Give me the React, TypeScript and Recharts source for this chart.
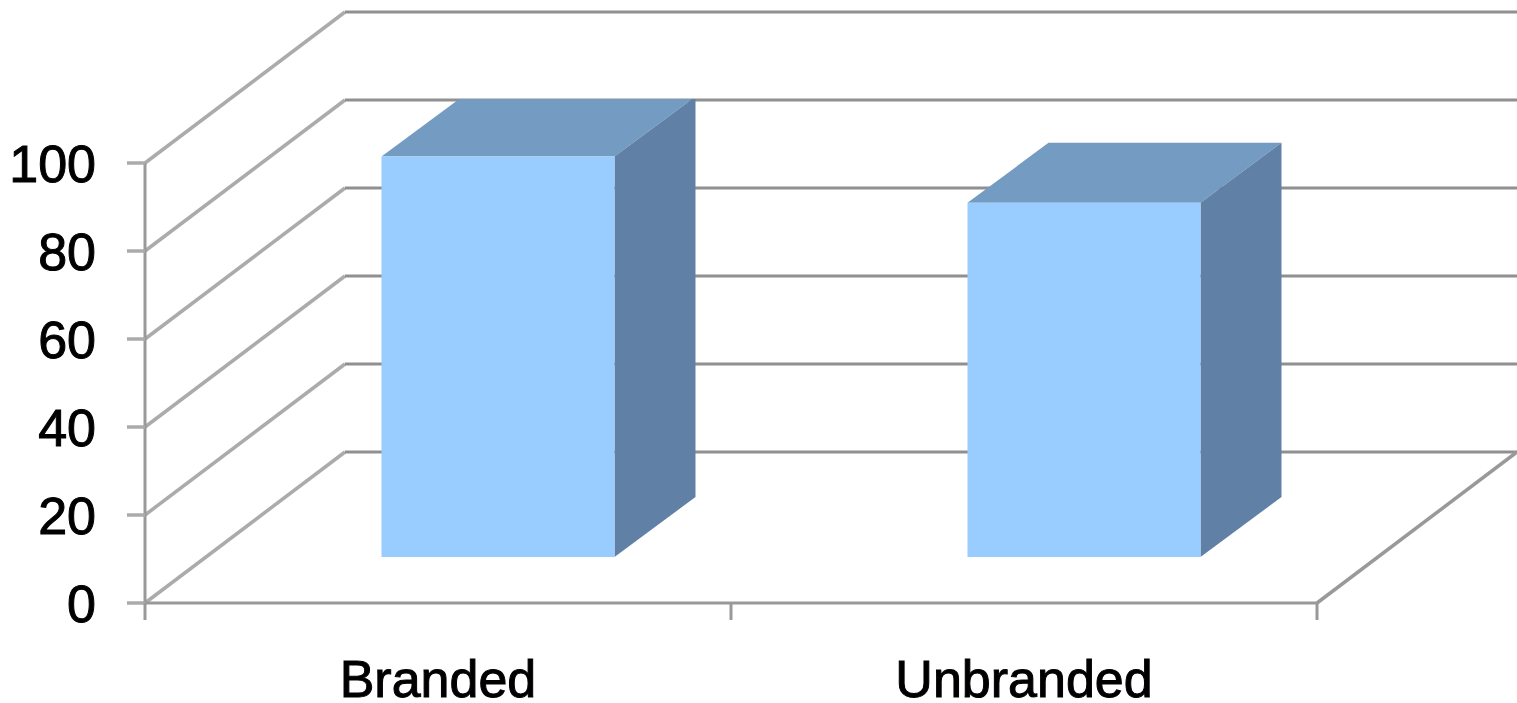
import { Bar, BarChart, CartesianGrid, XAxis, YAxis } from 'recharts';

const categories = ['Branded', 'Unbranded'];
const values = [91, 80.5];
const yTicks = [0, 20, 40, 60, 80, 100];

const data = categories.map((name, i) => ({ name, value: values[i] }));

// plot box of the front plane
const LEFT = 145;
const RIGHT = 1317;
const TOP = 163;
const FLOOR = 603;
const BAND = (RIGHT - LEFT) / categories.length;

// how far the walls and the bars recede into the page
const WALL_DX = 200;
const WALL_DY = 151;
const BAR_SHIFT_X = 59.5;
const BAR_SHIFT_Y = 46;
const BAR_DX = 81;
const BAR_DY = 60;
const BAR_CEILING = 99;

const AXIS = '#999999';
const WALL = '#ababab';
const BACK = '#909090';
const FONT = '"Liberation Sans", Arial, sans-serif';

// one grid level: the diagonal up the side wall, then the line along the back wall
function WallLine({ y1 }: any) {
  return (
    <g>
      <line x1={LEFT} y1={y1} x2={LEFT + WALL_DX} y2={y1 - WALL_DY} stroke={WALL} strokeWidth={3.5} />
      <line x1={LEFT + WALL_DX} y1={y1 - WALL_DY} x2={1517} y2={y1 - WALL_DY} stroke={BACK} strokeWidth={3} />
    </g>
  );
}

function ValueTick({ y, payload }: any) {
  return (
    <g>
      <line x1={127} y1={y} x2={LEFT} y2={y} stroke={WALL} strokeWidth={3.5} />
      <text
        x={96}
        y={y + 19}
        textAnchor="end"
        fontFamily={FONT}
        fontSize={52}
        fill="#000"
        stroke="#000"
        strokeWidth={1}
      >
        {payload.value}
      </text>
    </g>
  );
}

function CategoryTick({ x, payload, index }: any) {
  const edge = x + BAND / 2;
  return (
    <g>
      {index === 0 && (
        <line x1={x - BAND / 2} y1={FLOOR} x2={x - BAND / 2} y2={620} stroke={AXIS} strokeWidth={3} />
      )}
      <line x1={edge} y1={FLOOR} x2={edge} y2={620} stroke={AXIS} strokeWidth={3} />
      {index === categories.length - 1 && (
        <line
          x1={edge}
          y1={FLOOR}
          x2={edge + WALL_DX}
          y2={FLOOR - WALL_DY}
          stroke={AXIS}
          strokeWidth={3.5}
        />
      )}
      <text
        x={x}
        y={697}
        textAnchor="middle"
        fontFamily={FONT}
        fontSize={52}
        fill="#000"
        stroke="#000"
        strokeWidth={1}
      >
        {payload.value}
      </text>
    </g>
  );
}

// front, top and side faces of a box, all derived from the bar rectangle
function Box3D({ x, y, width, height, index }: any) {
  const x0 = x + BAR_SHIFT_X;
  const x1 = x0 + width;
  const top = y - BAR_SHIFT_Y;
  const bottom = top + height;
  const id = `box-clip-${index}`;
  return (
    <g clipPath={`url(#${id})`}>
      <clipPath id={id}>
        <rect x={0} y={BAR_CEILING} width={1517} height={703} />
      </clipPath>
      <polygon
        points={`${x0},${top} ${x0 + BAR_DX},${top - BAR_DY} ${x1 + BAR_DX},${top - BAR_DY} ${x1},${top}`}
        fill="#749bc2"
      />
      <polygon
        points={`${x1},${top} ${x1 + BAR_DX},${top - BAR_DY} ${x1 + BAR_DX},${bottom - BAR_DY} ${x1},${bottom}`}
        fill="#6081a5"
      />
      <rect x={x0} y={top} width={width} height={height} fill="#99ccff" />
    </g>
  );
}

export default function App() {
  return (
    <div style={{ position: 'absolute', left: 0, top: 0, width: 1517, height: 703, background: '#fff' }}>
      <BarChart
        width={1517}
        height={703}
        data={data}
        barSize={233}
        margin={{ top: TOP, right: 1517 - RIGHT, bottom: 0, left: 0 }}
      >
        <CartesianGrid vertical={false} horizontal={<WallLine />} horizontalValues={yTicks} />
        <YAxis
          type="number"
          domain={[0, 100]}
          ticks={yTicks}
          width={LEFT}
          interval={0}
          axisLine={{ stroke: AXIS, strokeWidth: 3 }}
          tickLine={false}
          tick={<ValueTick />}
        />
        <XAxis
          dataKey="name"
          height={703 - FLOOR}
          interval={0}
          axisLine={{ stroke: AXIS, strokeWidth: 3 }}
          tickLine={false}
          tick={<CategoryTick />}
        />
        <Bar dataKey="value" isAnimationActive={false} shape={<Box3D />} />
      </BarChart>
    </div>
  );
}
